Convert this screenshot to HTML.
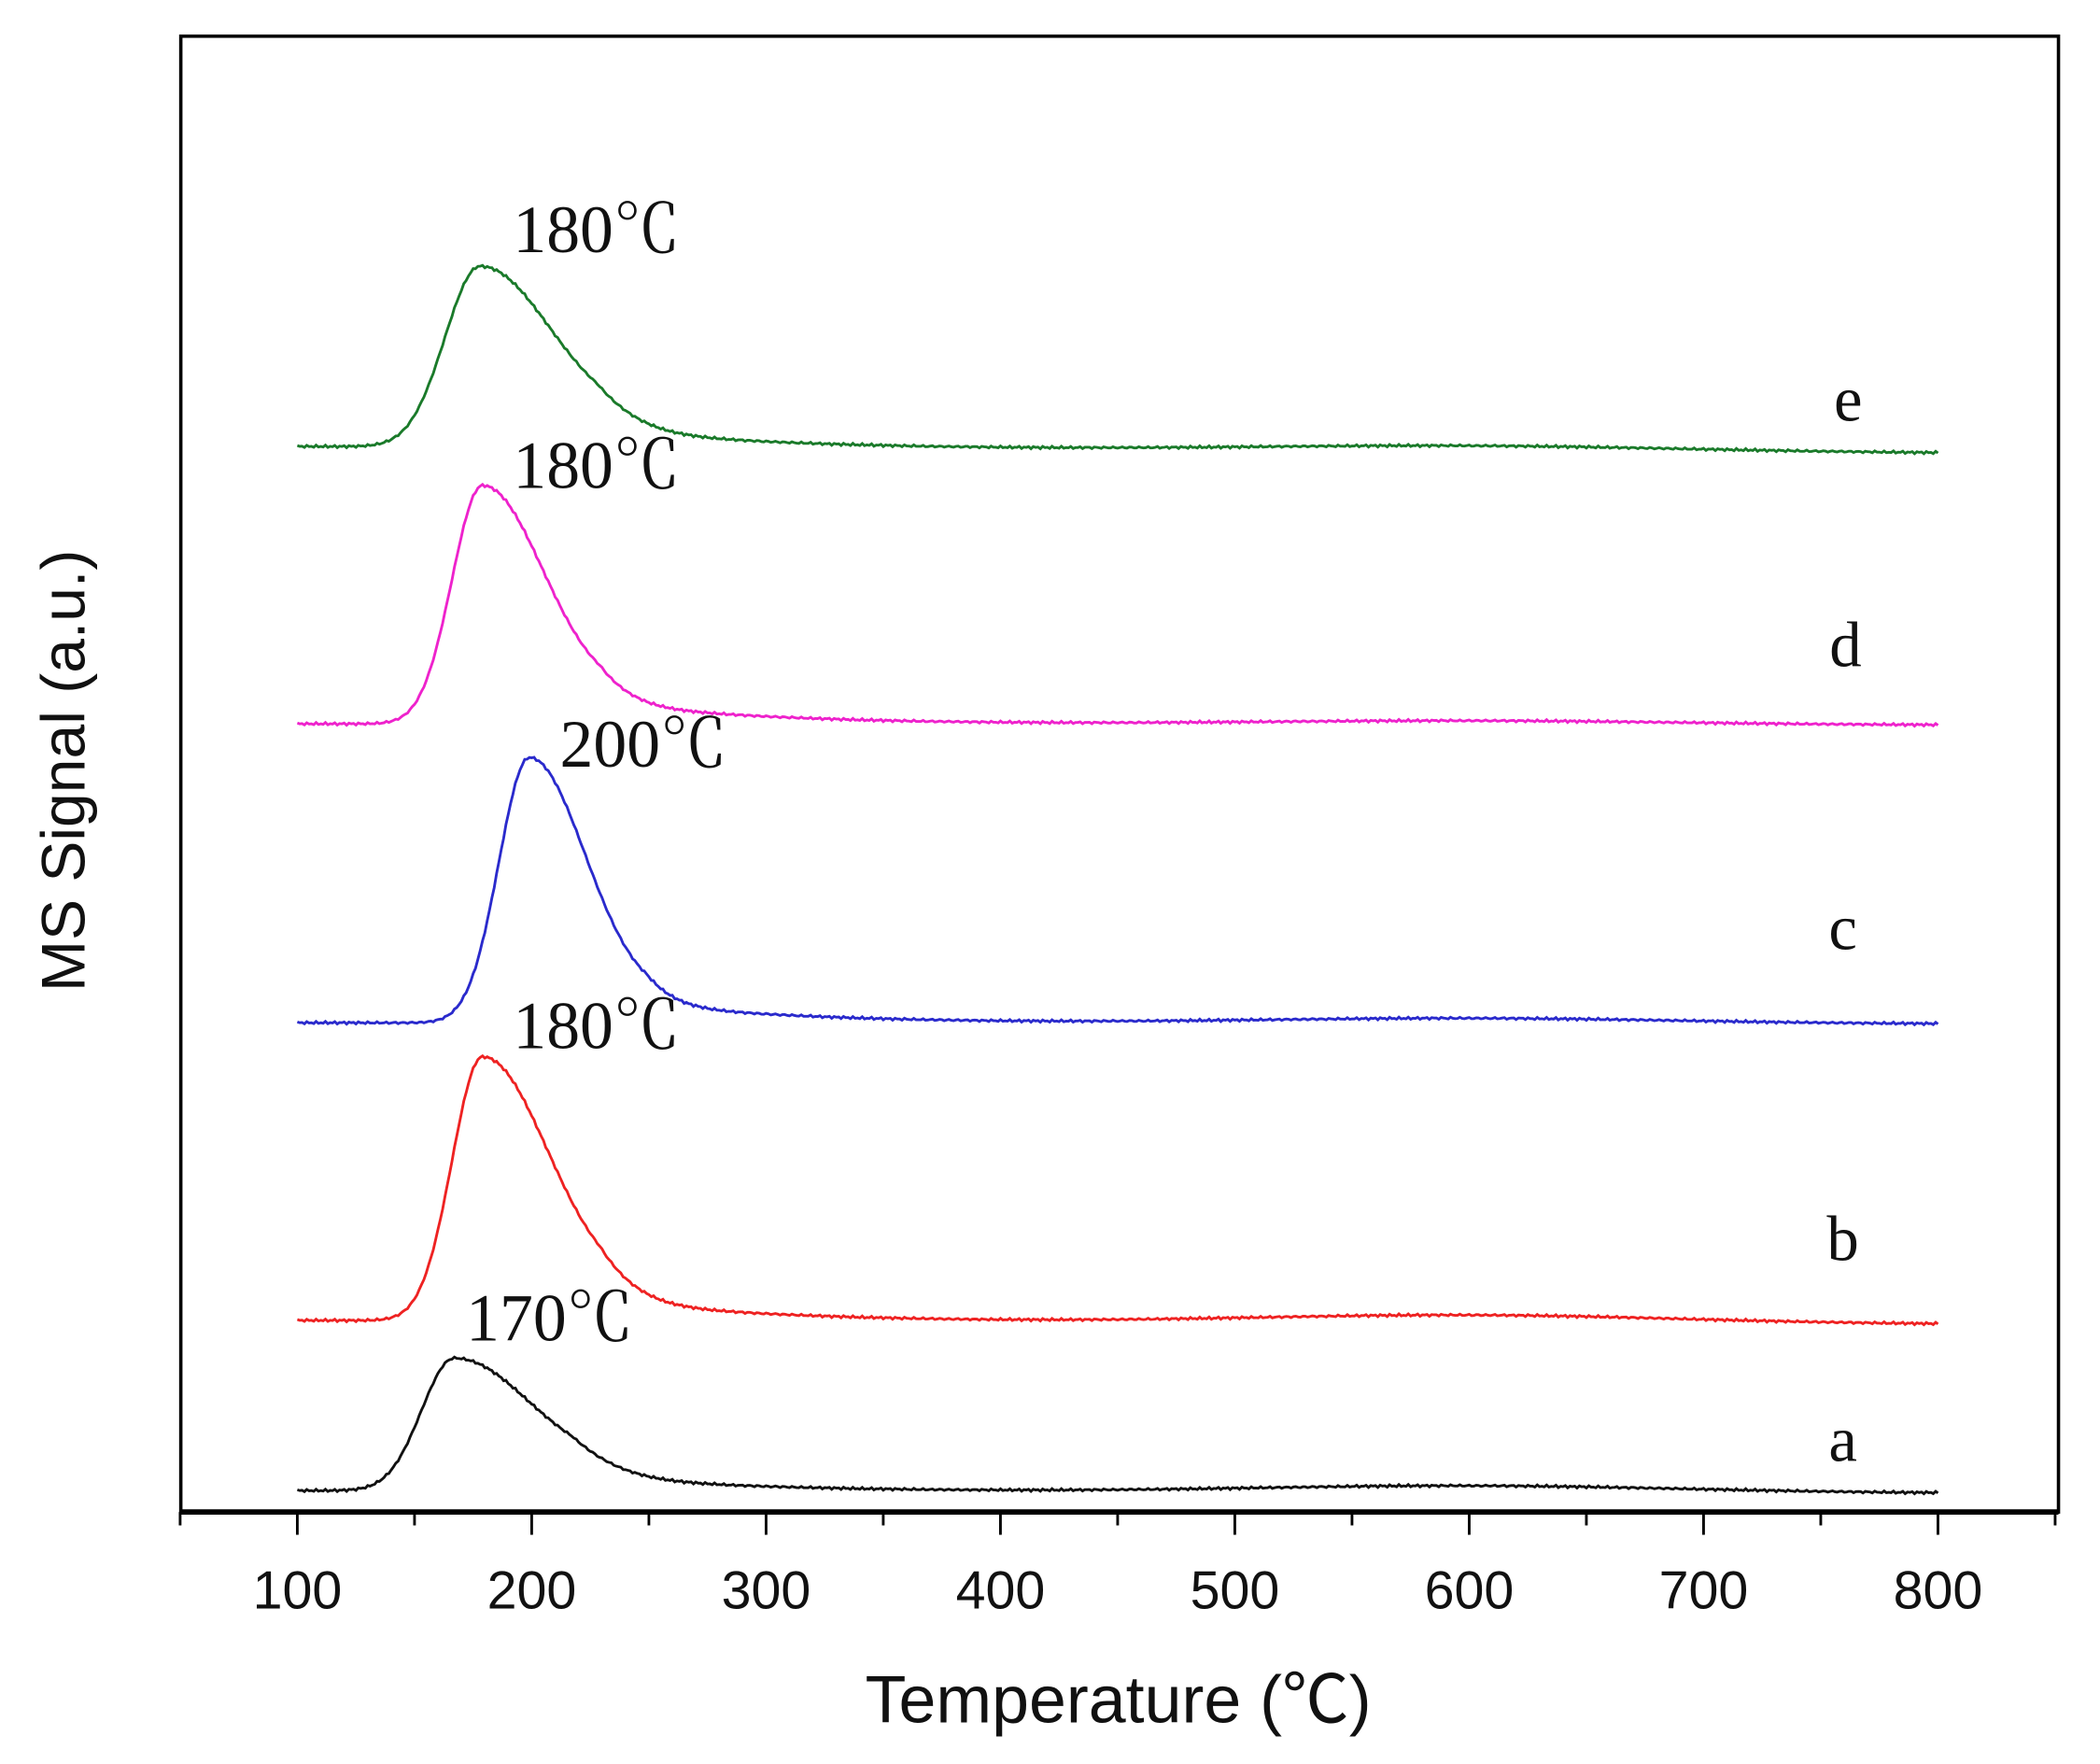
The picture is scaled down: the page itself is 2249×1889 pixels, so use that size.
<!DOCTYPE html>
<html><head><meta charset="utf-8"><style>
html,body{margin:0;padding:0;background:#fff}
svg{display:block}
</style></head><body>
<svg id="s" width="2249" height="1889" viewBox="0 0 1568 1316" preserveAspectRatio="none" xmlns="http://www.w3.org/2000/svg">
<rect x="0" y="0" width="1568" height="1316" fill="#fff"/>
<rect x="135" y="27" width="1402" height="1101" fill="none" stroke="#000" stroke-width="2.5"/>
<line x1="135" y1="1128" x2="1537" y2="1128" stroke="#000" stroke-width="4"/>
<g id="ticks" stroke="#000" stroke-width="2"></g>
<g font-family="Liberation Sans, sans-serif" font-size="40" text-anchor="middle" fill="#111">
<text x="222" y="1200">100</text><text x="397" y="1200">200</text><text x="572" y="1200">300</text><text x="747" y="1200">400</text><text x="922" y="1200">500</text><text x="1097" y="1200">600</text><text x="1272" y="1200">700</text><text x="1447" y="1200">800</text>
</g>
<text x="835" y="1285" font-family="Liberation Sans, sans-serif" font-size="50" text-anchor="middle" fill="#111">Temperature (<tspan font-family="Noto Sans CJK SC, sans-serif">℃</tspan>)</text>
<text transform="translate(63,575) rotate(-90)" font-family="Liberation Sans, sans-serif" font-size="46" text-anchor="middle" fill="#111">MS Signal (a.u.)</text>
<g id="curves" fill="none" stroke-width="2"></g>
<g font-family="Liberation Serif, serif" font-size="50" fill="#111">
<text x="383" y="188">180<tspan font-family="Noto Serif CJK SC, serif">℃</tspan></text>
<text x="383" y="364">180<tspan font-family="Noto Serif CJK SC, serif">℃</tspan></text>
<text x="418" y="572">200<tspan font-family="Noto Serif CJK SC, serif">℃</tspan></text>
<text x="383" y="782">180<tspan font-family="Noto Serif CJK SC, serif">℃</tspan></text>
<text x="348" y="1000">170<tspan font-family="Noto Serif CJK SC, serif">℃</tspan></text>
</g>
<g font-family="Liberation Serif, serif" font-size="48" fill="#111" text-anchor="middle">
<text x="1380" y="314">e</text><text x="1378" y="497">d</text><text x="1376" y="708">c</text><text x="1376" y="940">b</text><text x="1376" y="1090">a</text>
</g>
</svg>
<script>
var NS="http://www.w3.org/2000/svg";
var tk=document.getElementById("ticks");
for(var T=50;T<=850;T+=50){var x=222+(T-100)*1.75;var l=document.createElementNS(NS,"line");l.setAttribute("x1",x);l.setAttribute("x2",x);l.setAttribute("y1",1128);l.setAttribute("y2",T%100==0?1145:1138);tk.appendChild(l);}
var cs=[
 {c:"#1a7a2a",b0:333,b1:338,tp:178,H:135,sl:15,sr:30,A:14,h2:4},
 {c:"#ee22cc",b0:540,b1:541,tp:179,H:178,sl:13,sr:26,A:16,h2:3},
 {c:"#2a2acc",b0:763,b1:764,tp:199,H:198,sl:13,sr:24,A:14,h2:4},
 {c:"#ee2222",b0:985,b1:988,tp:179,H:197,sl:13,sr:28,A:16,h2:6},
 {c:"#111111",b0:1112,b1:1114,tp:167,H:99,sl:14,sr:32,A:12,h2:5}
];
var g=document.getElementById("curves");
cs.forEach(function(s){
 var d="";
 for(var T=100;T<=800;T+=1){
  var x=222+(T-100)*1.75;
  var base=s.b0+(s.b1-s.b0)*(T-100)/700;
  var u=T<s.tp?(T-s.tp)/s.sl:(T-s.tp)/s.sr;
  var v=s.H*Math.exp(-u*u/2);
  if(T>s.tp){var k=Math.min(1,(T-s.tp)/50);v+=s.A*k*k*Math.exp(-(T-s.tp-50)/70);}
  v+=s.h2*Math.exp(-Math.pow((T-600)/90,2)/2);
  v+=(Math.sin(T*1.7)+Math.sin(T*3.1))*0.5;
  d+=(T==100?"M":"L")+x.toFixed(1)+" "+(base-v).toFixed(1);
 }
 var p=document.createElementNS(NS,"path");p.setAttribute("d",d);p.setAttribute("stroke",s.c);g.appendChild(p);
});
</script>
</body></html>
